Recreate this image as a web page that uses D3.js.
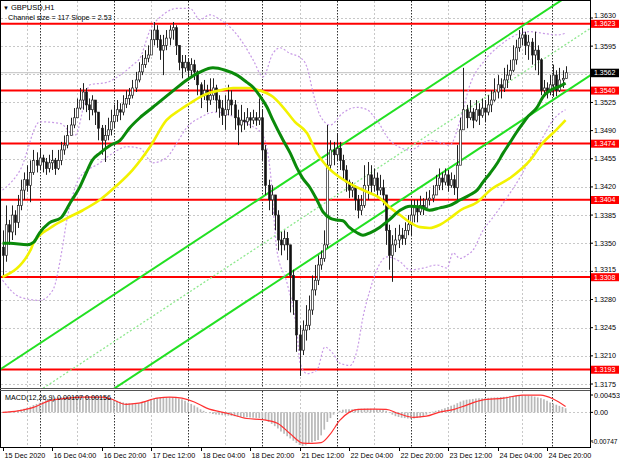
<!DOCTYPE html>
<html><head><meta charset="utf-8">
<script src="https://cdn.jsdelivr.net/npm/d3@7"></script>
<style>html,body{margin:0;padding:0;background:#fff;} svg{display:block;font-family:"Liberation Sans",Arial,sans-serif;}</style>
</head><body><svg id="c" width="620" height="465"></svg>
<script>
// ---- DATA (prices as 4 digits after "1.", e.g. 3562 = 1.3562) ----
const firstOpen = 3345;
const closes = [3335,3373,3364,3385,3376,3397,3416,3429,3422,3438,3453,3447,3456,3451,3443,3450,3453,3443,3453,3466,
3472,3484,3497,3506,3518,3528,3538,3522,3516,3528,3513,3493,3478,3484,3491,3501,3509,3516,3513,3523,
3530,3534,3543,3553,3563,3572,3580,3584,3603,3615,3603,3590,3596,3605,3615,3618,3596,3575,3568,3575,
3565,3572,3563,3547,3534,3540,3528,3534,3543,3528,3518,3509,3516,3528,3522,3506,3497,3503,3501,3506,
3503,3506,3503,3506,3466,3422,3404,3410,3385,3354,3348,3356,3348,3310,3279,3236,3217,3242,3248,3267,
3292,3304,3323,3331,3348,3447,3466,3460,3468,3453,3441,3426,3416,3419,3404,3391,3397,3422,3435,3422,
3431,3416,3419,3410,3366,3335,3348,3354,3360,3356,3366,3373,3385,3394,3389,3397,3394,3404,3406,3410,
3422,3431,3426,3435,3422,3429,3419,3447,3491,3516,3506,3513,3503,3516,3509,3518,3513,3522,3528,3538,
3547,3543,3553,3559,3565,3578,3593,3605,3609,3596,3600,3584,3590,3578,3540,3543,3538,3547,3559,3540,
3553,3555,3562];
const highs = [3366,3397,3379,3397,3391,3410,3429,3438,3447,3453,3466,3463,3468,3460,3456,3460,3466,3456,3466,3476,
3484,3497,3506,3518,3530,3543,3549,3543,3530,3534,3528,3513,3497,3497,3506,3516,3522,3528,3524,3534,
3540,3543,3553,3563,3575,3584,3590,3596,3615,3625,3621,3609,3609,3615,3621,3625,3621,3596,3584,3584,
3580,3580,3578,3565,3550,3553,3547,3555,3555,3547,3534,3528,3534,3547,3540,3528,3516,3522,3513,3518,
3513,3516,3513,3530,3516,3472,3429,3422,3410,3391,3364,3366,3364,3348,3317,3279,3248,3254,3273,3285,
3310,3323,3335,3341,3366,3497,3478,3476,3487,3476,3460,3447,3429,3426,3422,3410,3410,3447,3451,3447,
3443,3438,3435,3429,3410,3373,3360,3369,3373,3369,3376,3385,3404,3404,3404,3409,3406,3414,3416,3422,
3435,3443,3438,3443,3441,3438,3435,3472,3506,3568,3522,3528,3518,3528,3524,3530,3528,3534,3540,3555,
3559,3555,3568,3572,3578,3596,3603,3615,3618,3613,3609,3605,3613,3596,3580,3553,3550,3559,3572,3565,
3568,3565,3570];
const lows = [3310,3327,3348,3354,3360,3369,3391,3404,3414,3401,3435,3438,3441,3438,3435,3438,3441,3435,3441,3447,
3460,3468,3484,3493,3506,3516,3516,3513,3503,3509,3497,3478,3460,3451,3478,3484,3493,3501,3503,3509,
3518,3522,3530,3538,3550,3559,3568,3575,3584,3596,3593,3578,3559,3590,3596,3603,3584,3565,3555,3563,
3555,3558,3553,3534,3518,3528,3513,3522,3528,3513,3506,3497,3491,3509,3509,3491,3472,3488,3491,3496,
3493,3498,3496,3497,3453,3410,3391,3385,3366,3341,3335,3341,3329,3264,3261,3215,3185,3211,3229,3242,
3261,3285,3298,3317,3327,3344,3441,3447,3453,3441,3429,3414,3406,3407,3391,3381,3385,3394,3404,3410,
3414,3406,3410,3397,3348,3317,3302,3339,3344,3348,3348,3360,3360,3376,3376,3385,3385,3391,3397,3401,
3410,3416,3416,3422,3414,3419,3410,3404,3460,3497,3493,3503,3493,3501,3497,3506,3501,3509,3513,3526,
3530,3530,3538,3543,3553,3563,3572,3588,3596,3584,3578,3572,3565,3559,3534,3532,3530,3534,3532,3533,
3538,3543,3555];
// MACD main (x1e-5), one per bar
const macdMain = [10,15,20,25,35,50,70,95,120,150,190,220,250,280,320,350,370,380,390,400,
400,410,415,420,425,430,432,430,425,420,410,400,390,380,370,350,330,300,280,260,
245,235,235,238,240,260,290,320,350,370,380,390,395,400,400,395,385,360,340,300,
260,220,180,130,80,40,0,-20,-40,-55,-65,-75,-80,-85,-90,-100,-110,-120,-125,-130,
-135,-140,-145,-150,-160,-200,-250,-300,-360,-420,-500,-560,-620,-680,-740,-800,-850,-880,-860,-820,
-780,-750,-720,-600,-450,-250,-150,-60,0,40,70,80,80,80,85,90,95,100,100,95,
90,80,75,65,40,-10,-60,-100,-120,-140,-150,-160,-165,-160,-150,-130,-100,-60,-20,20,
40,60,80,110,140,170,200,240,280,310,330,340,350,360,365,370,375,380,385,390,
395,400,405,410,420,430,440,450,455,450,440,425,410,390,370,340,300,260,230,200,
170,140,107];
// MACD signal (bar index, value x1e-5)
const macdSignal = [[0,0],[5,40],[10,130],[15,300],[21,370],[26,400],[32,400],[35,350],[40,210],[44,240],[50,370],[54,400],[58,370],[62,270],[66,110],[73,-30],[79,-160],[84,-190],[89,-290],[93,-560],[97,-800],[100,-810],[103,-790],[106,-560],[109,-210],[112,0],[115,80],[120,85],[124,80],[128,-30],[133,-130],[137,-100],[141,0],[146,80],[150,190],[155,320],[162,370],[168,450],[174,450],[178,350],[182,156]];
// Moving averages (bar index, price)
const maGreen = [[0,3350],[2.4,3350],[8,3348],[10,3351],[12,3363],[15,3375],[19,3382],[22,3401],[25,3420],[27,3437],[29,3453],[31.5,3462],[35,3472],[38,3478],[41,3493],[44.4,3506],[48.6,3519],[55,3539],[59.6,3553],[64,3563],[68,3568],[72,3565],[75.8,3559],[79,3550],[81,3544],[83,3534],[85.5,3519],[87.4,3503],[90.7,3478],[93,3462],[95,3445],[97,3431],[99.4,3419],[101.6,3404],[103.6,3389],[106,3381],[108,3379],[110,3378],[112,3370],[114.6,3363],[116.5,3360],[118.8,3363],[122,3370],[125,3379],[128.5,3391],[131.7,3396],[135,3395],[138,3391],[141.4,3394],[144.6,3397],[148,3404],[151,3410],[153.4,3416],[155.3,3426],[157.6,3437],[160,3450],[161.8,3462],[164,3475],[166,3487],[168.2,3499],[169.5,3506],[172.8,3519],[174.7,3532],[177,3540],[180,3545],[182,3549]];
const maYellow = [[0,3308],[9,3341],[10,3350],[15.4,3369],[20.8,3381],[26,3391],[31.5,3404],[37,3422],[42,3441],[47.7,3470],[53,3503],[57.4,3516],[60.6,3524],[64,3532],[67,3537],[70.3,3540],[74.5,3543],[79,3543],[83,3540],[87.4,3532],[90.7,3519],[94.5,3501],[98.4,3487],[101.6,3462],[105,3445],[109,3432],[113.3,3422],[117.8,3414],[122,3406],[125,3395],[128.5,3385],[131.7,3376],[135,3370],[138,3369],[141.4,3373],[144.6,3381],[148,3391],[153.4,3401],[157.6,3416],[164,3431],[170.5,3453],[174.7,3475],[179,3491],[182,3503]];
// Bollinger-style envelope (bar index, price)
const bandUpper = [[0,3416],[5.7,3441],[12.1,3501],[18.6,3499],[23.4,3484],[28.3,3547],[33.8,3550],[38,3559],[42.2,3572],[44.4,3580],[47.7,3615],[51.9,3634],[56.4,3642],[60.6,3642],[63.8,3628],[67,3634],[70.3,3628],[74.5,3615],[77.7,3599],[81,3578],[84.2,3557],[87.4,3586],[89.7,3593],[92.9,3586],[96.2,3581],[98.4,3569],[100.4,3537],[102.6,3509],[105.9,3497],[110,3512],[114.6,3519],[117.8,3516],[121,3503],[125.2,3478],[131.7,3466],[138.2,3478],[144.6,3472],[147.9,3503],[151.1,3547],[156,3578],[160.8,3596],[167.3,3611],[170.5,3613],[174.7,3611],[179.2,3609],[182,3611]];
const bandLower = [[0,3304],[5.7,3283],[12.1,3279],[16.3,3292],[19.2,3341],[20.8,3379],[22.5,3407],[25,3432],[31.5,3450],[35.7,3462],[40.2,3470],[44.4,3468],[48.6,3450],[53.2,3457],[56.4,3475],[59.6,3494],[63.8,3506],[68.7,3513],[73.5,3509],[80,3497],[84.2,3484],[86.5,3441],[88.7,3341],[92,3300],[95.2,3238],[96.2,3201],[98.4,3188],[101.6,3192],[104.2,3221],[106.8,3213],[109,3201],[112.3,3198],[114.6,3217],[116.5,3258],[118.8,3292],[121,3317],[124.3,3333],[128.5,3327],[131.7,3317],[135.9,3319],[140.4,3323],[143.7,3319],[145.6,3338],[147.9,3331],[150,3335],[152,3341],[155.3,3366],[158.5,3382],[163.1,3407],[167.3,3432],[171.5,3462],[174.7,3482],[177.9,3503],[182,3516]];
// Linear regression channel: upper line at bar 0 and slope (pips/bar), width (pips)
const channelStart = 3195, channelSlope = 2.53, channelSize = 117;
const levels = [3623, 3540, 3474, 3404, 3308, 3193];
const lastPrice = 3562;
const priceTicks = [3630,3595,3525,3490,3455,3420,3385,3350,3315,3280,3245,3210,3175];
const gridPrices = [3630,3595,3560,3525,3490,3455,3420,3385,3350,3315,3280,3245,3210,3175];
const timeLabelIdx = [0,16,32,48,64,80,96,112,128,144,160,176];
const timeLabels = ["15 Dec 2020","16 Dec 04:00","16 Dec 20:00","17 Dec 12:00","18 Dec 04:00","18 Dec 20:00","21 Dec 12:00","22 Dec 04:00","22 Dec 20:00","23 Dec 12:00","24 Dec 04:00","24 Dec 20:00"];
const gridIdx = [8,24,48,72,96,120,144,168];
const daySepIdx = [12,36,60,84,108,132,156,177.6];
const macdTicks = [0.00453, 0, -0.00747];
const macdTickLabels = ["0.00453","0.00","-0.00747"];

// ---- DRAW ----
const P = v => 1 + v/10000;
const svg = d3.select("#c");
const right = 590, mainTop = 1, mainBot = 388, mTop = 391, mBot = 447;
const x = d3.scaleLinear().domain([0,182]).range([2.5,565.6]);
const y = d3.scaleLinear().domain([1.3175,1.3630]).range([384,18]);
const ym = d3.scaleLinear().domain([-0.00747,0.00453]).range([441,395]);

const defs = svg.append("defs");
defs.append("clipPath").attr("id","cm").append("rect").attr("x",1).attr("y",mainTop).attr("width",right-1).attr("height",mainBot-mainTop);
defs.append("clipPath").attr("id","cd").append("rect").attr("x",1).attr("y",mTop).attr("width",right-1).attr("height",mBot-mTop);

const gm = svg.append("g").attr("clip-path","url(#cm)");
const gd = svg.append("g").attr("clip-path","url(#cd)");

// grid
gridPrices.forEach(v=>{
  gm.append("line").attr("x1",1).attr("x2",right).attr("y1",Math.round(y(P(v)))+0.5).attr("y2",Math.round(y(P(v)))+0.5)
    .attr("stroke","#c8c8c8").attr("stroke-dasharray","2,2").attr("stroke-width",1);
});
[gm,gd].forEach((g,k)=>{
  const y1 = k==0?mainTop:mTop, y2 = k==0?mainBot:mBot;
  gridIdx.forEach(i=>{
    g.append("line").attr("x1",Math.round(x(i))+0.5).attr("x2",Math.round(x(i))+0.5).attr("y1",y1).attr("y2",y2)
      .attr("stroke","#c8c8c8").attr("stroke-dasharray","2,2");
  });
  daySepIdx.forEach(i=>{
    g.append("line").attr("x1",Math.round(x(i))+0.5).attr("x2",Math.round(x(i))+0.5).attr("y1",y1).attr("y2",y2)
      .attr("stroke","#333").attr("stroke-dasharray","1.5,1.5");
  });
});
// bid line
gm.append("line").attr("x1",1).attr("x2",right).attr("y1",y(P(lastPrice))).attr("y2",y(P(lastPrice))).attr("stroke","#c0c0c0").attr("stroke-width",1);

// red levels
levels.forEach(v=>{
  gm.append("line").attr("x1",1).attr("x2",right).attr("y1",y(P(v))).attr("y2",y(P(v))).attr("stroke","#ff0000").attr("stroke-width",2);
});

// channel
const chan = (off, dash, col) => {
  const l = d3.line().x(d=>x(d)).y(d=>y(P(channelStart - off + channelSlope*d)));
  gm.append("path").attr("d", l([-2, 190])).attr("fill","none").attr("stroke",col).attr("stroke-width",dash?1.3:2).attr("stroke-dasharray",dash?"2,2":null);
};
chan(0,false,"#22e022");
chan(channelSize/2,true,"#8ee88e");
chan(channelSize,false,"#22e022");

// bands
const lineP = d3.line().x(d=>x(d[0])).y(d=>y(P(d[1]))).curve(d3.curveMonotoneX);
[bandUpper, bandLower].forEach(b=>{
  gm.append("path").attr("d",lineP(b)).attr("fill","none").attr("stroke","#c89be6").attr("stroke-width",1.2).attr("stroke-dasharray","2,2");
});

// candles
const cg = gm.append("g");
closes.forEach((c,i)=>{
  const o = i==0?firstOpen:closes[i-1];
  const cx = Math.round(x(i))+0.5;
  cg.append("line").attr("x1",cx).attr("x2",cx).attr("y1",y(P(highs[i]))).attr("y2",y(P(lows[i]))).attr("stroke","#222").attr("stroke-width",1);
  const top = y(P(Math.max(o,c))), bot = y(P(Math.min(o,c)));
  const bull = c>=o;
  cg.append("rect").attr("x",cx-1).attr("y",top).attr("width",2).attr("height",Math.max(1,bot-top))
    .attr("fill",bull?"#fff":"#111").attr("stroke","#222").attr("stroke-width",0.7);
});

// MAs
gm.append("path").attr("d",lineP(maYellow)).attr("fill","none").attr("stroke","#f2f200").attr("stroke-width",2.6);
gm.append("path").attr("d",lineP(maGreen)).attr("fill","none").attr("stroke","#0a8a0a").attr("stroke-width",3);

// MACD panel
gd.append("line").attr("x1",1).attr("x2",right).attr("y1",Math.round(ym(0))+0.5).attr("y2",Math.round(ym(0))+0.5).attr("stroke","#c8c8c8").attr("stroke-dasharray","2,2");
macdMain.forEach((v,i)=>{
  gd.append("line").attr("x1",x(i)).attr("x2",x(i)).attr("y1",ym(0)).attr("y2",ym(v/1e5)).attr("stroke","#b8b8b8").attr("stroke-width",1.7);
});
const lineM = d3.line().x(d=>x(d[0])).y(d=>ym(d[1]/1e5)).curve(d3.curveMonotoneX);
gd.append("path").attr("d",lineM(macdSignal)).attr("fill","none").attr("stroke","#ff3030").attr("stroke-width",1.2);

// frames
const fr = svg.append("g").attr("stroke","#000").attr("fill","none");
fr.append("line").attr("x1",0).attr("x2",right).attr("y1",0.5).attr("y2",0.5);
fr.append("line").attr("x1",0.5).attr("x2",0.5).attr("y1",0).attr("y2",mBot);
fr.append("line").attr("x1",right+0.5).attr("x2",right+0.5).attr("y1",0).attr("y2",mBot);
fr.append("line").attr("x1",0).attr("x2",right).attr("y1",mainBot+0.5).attr("y2",mainBot+0.5).attr("stroke","#555");
fr.append("line").attr("x1",0).attr("x2",right).attr("y1",mTop-0.5).attr("y2",mTop-0.5).attr("stroke","#555");
fr.append("line").attr("x1",0).attr("x2",right+1).attr("y1",mBot+0.5).attr("y2",mBot+0.5);

// price axis labels (a tick label that collides with a level box is lifted, as the terminal does)
const fs = "7.2px";
priceTicks.forEach(v=>{
  const yy = y(P(v));
  svg.append("line").attr("x1",right).attr("x2",right+3).attr("y1",yy).attr("y2",yy).attr("stroke","#000");
  const near = levels.find(l => l < v && y(P(l)) - yy < 9);
  const ty = near !== undefined ? Math.min(yy + 2.5, y(P(near)) - 5.2) : yy + 2.5;
  svg.append("text").attr("x",594).attr("y",ty).attr("font-size",fs).attr("fill","#000").text(d3.format(".4f")(P(v)));
});
levels.forEach(v=>{
  const yy = y(P(v));
  svg.append("rect").attr("x",591).attr("y",yy-3.8).attr("width",28).attr("height",8).attr("fill","#ff0000");
  svg.append("text").attr("x",594).attr("y",yy+2.6).attr("font-size","7px").attr("fill","#fff").text(d3.format(".4f")(P(v)));
});
{
  const yy = y(P(lastPrice));
  svg.append("rect").attr("x",591).attr("y",yy-4).attr("width",28).attr("height",8.5).attr("fill","#000");
  svg.append("text").attr("x",594).attr("y",yy+2.6).attr("font-size","7px").attr("fill","#fff").text(d3.format(".4f")(P(lastPrice)));
}
macdTicks.forEach((v,k)=>{
  const yy = ym(v);
  svg.append("line").attr("x1",right).attr("x2",right+3).attr("y1",yy).attr("y2",yy).attr("stroke","#000");
  const neg = macdTickLabels[k].startsWith("-");
  svg.append("text").attr("x",neg?591.5:594).attr("y",yy+2.5).attr("font-size",neg?"6.6px":fs).attr("fill","#000").text(macdTickLabels[k]);
});
// time axis
timeLabelIdx.forEach((i,k)=>{
  const xx = Math.round(x(i))+0.5;
  svg.append("line").attr("x1",xx).attr("x2",xx).attr("y1",mBot).attr("y2",mBot+4).attr("stroke","#000");
  svg.append("text").attr("x",xx+1).attr("y",458).attr("font-size",fs).attr("fill","#000").text(timeLabels[k]);
});

// titles
svg.append("text").attr("x",3).attr("y",10).attr("font-size","6px").text("▼");
svg.append("text").attr("x",11).attr("y",10).attr("font-size","7.5px").text("GBPUSD,H1");
svg.append("text").attr("x",8).attr("y",20).attr("font-size","7.2px").text("Channel size = 117 Slope = 2.53");
svg.append("text").attr("x",5).attr("y",400).attr("font-size","7.2px").text("MACD(12,26,9) 0.00107 0.00156");
</script></body></html>
